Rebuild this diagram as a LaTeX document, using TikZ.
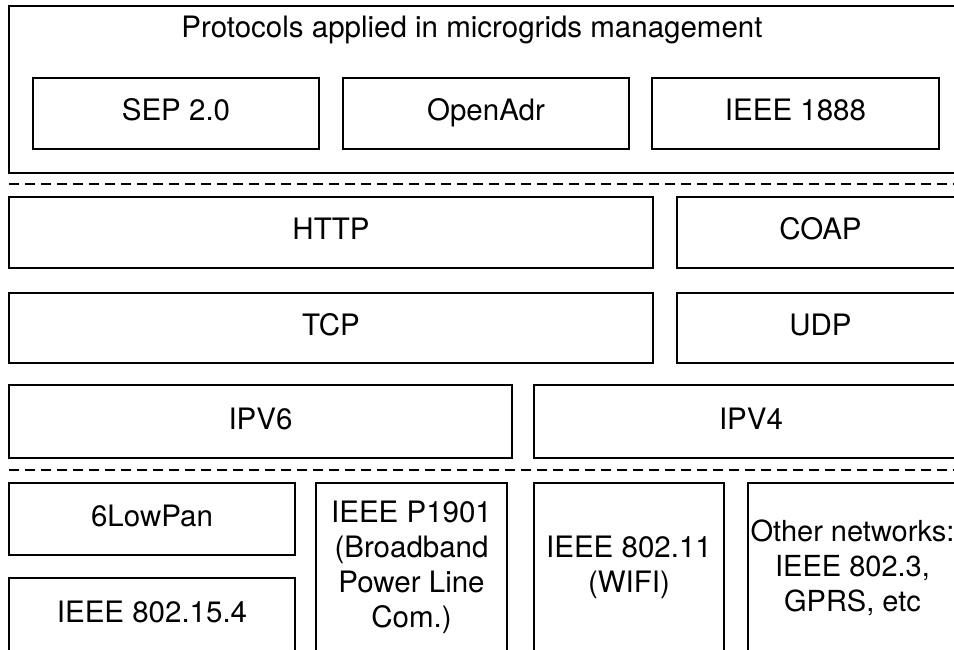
\documentclass[tikz,border=0pt]{standalone}
\usepackage{fontspec}
\setmainfont{TeX Gyre Heros}
\newcommand\mybox[7][]{%
  \node[box, #1, minimum width={(#5-#3)*1pt}, minimum height={(#6-#4)*1pt}] (#2) at ({(#3+#5)/2},{(#4+#6)/2}) {#7};}
\begin{document}
\begin{tikzpicture}[x=1pt,y=-1pt,
  base/.style={font=\fontsize{29.5}{35}\selectfont},
  one/.style={text height=21pt, text depth=6pt},
  box/.style={base, draw, line width=2pt, inner sep=0pt, outer sep=0pt, align=center},
  sep/.style={line width=2pt, dash pattern=on 10pt off 6pt}]
\useasboundingbox (0,0) rectangle (954,650);
\clip (0,0) rectangle (954,650);
% top group
\mybox{outer}{9}{6}{968}{173}{}
\node[base, one, inner sep=0pt] (title) at (472,30) {Protocols applied in microgrids management};
\mybox[one]{sep2}{33}{78}{319}{149}{SEP 2.0}
\mybox[one]{openadr}{343}{78}{629}{149}{OpenAdr}
\mybox[one]{ieee1888}{652}{78}{939}{149}{IEEE 1888}
% separator 1
\coordinate (s1a) at (9,184);
\coordinate (s1b) at (960,184);
\draw[sep] (s1a) -- (s1b);
% middle layers
\mybox[one]{http}{9}{197}{653}{268}{HTTP}
\mybox[one]{coap}{677}{197}{964}{268}{COAP}
\mybox[one]{tcp}{9}{293}{653}{363}{TCP}
\mybox[one]{udp}{677}{293}{964}{363}{UDP}
\mybox[one]{ipv6}{9}{385}{512}{458}{IPV6}
\mybox[one]{ipv4}{534}{385}{968}{458}{IPV4}
% separator 2
\coordinate (s2a) at (9,470);
\coordinate (s2b) at (960,470);
\draw[sep] (s2a) -- (s2b);
% bottom
\mybox[one]{lowpan}{9}{483}{295}{555}{6LowPan}
\mybox[one]{ieee802154}{9}{578}{295}{652}{IEEE 802.15.4}
\mybox{p1901}{316}{483}{507}{652}{IEEE P1901\\(Broadband\\Power Line\\Com.)}
\mybox{wifi}{534}{483}{724}{652}{IEEE 802.11\\(WIFI)}
\mybox[font=\fontsize{29}{35}\selectfont]{other}{748}{483}{957}{652}{Other networks:\\IEEE 802.3,\\GPRS, etc}
\end{tikzpicture}
\end{document}
